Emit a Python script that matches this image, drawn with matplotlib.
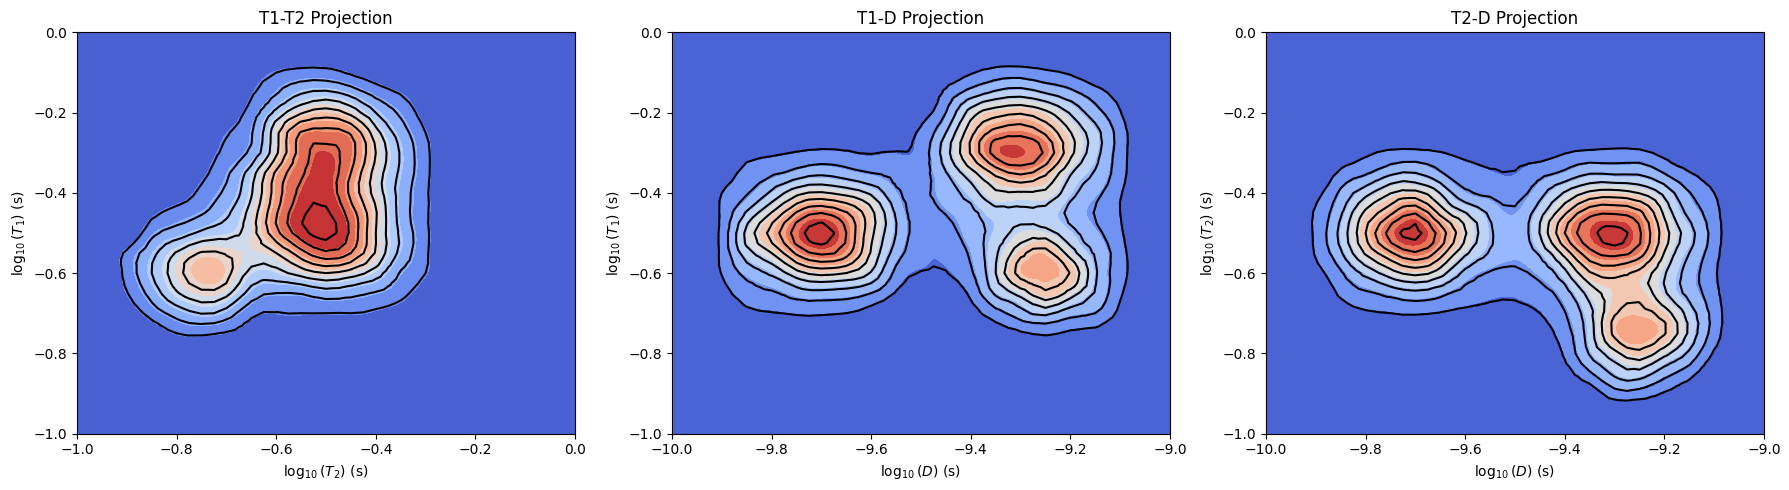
# three 2D projections, contour lines over filled bands
import numpy as np
import matplotlib
matplotlib.use("Agg")
import matplotlib.pyplot as plt
from matplotlib.tri import Triangulation, UniformTriRefiner

# grid nodes, values are heights in units of the contour line spacing
t_axis = [-1.0 + 0.05 * i for i in range(21)]
d_axis = [-10.0 + 0.05 * i for i in range(21)]
y_axis = [-0.05 * i for i in range(21)]

# T1-T2, columns -0.95 .. -0.25, rows -0.05 .. -0.80
t1t2_rows = [
    [0, 0, 0, 0, 0, 0, 0, 0.1, 0.2, 0.2, 0.1, 0, 0, 0, 0],
    [0, 0, 0, 0, 0, 0, 0.4, 1.0, 1.3, 1.3, 0.85, 0.4, 0.1, 0, 0],
    [0, 0, 0, 0, 0, 0.1, 0.85, 1.9, 2.9, 3.2, 2.6, 1.6, 0.9, 0.2, 0],
    [0, 0, 0, 0, 0, 0.3, 1.4, 3.3, 4.9, 5.5, 4.7, 3.0, 1.8, 0.5, 0],
    [0, 0, 0, 0, 0.1, 0.9, 1.9, 4.7, 7.1, 7.4, 6.9, 4.4, 2.5, 1.0, 0],
    [0, 0, 0, 0, 0.4, 1.25, 2.2, 4.8, 7.5, 8.3, 7.4, 5.0, 2.9, 1.25, 0],
    [0, 0, 0, 0, 0.7, 1.8, 3.5, 6.2, 7.85, 8.5, 7.0, 4.6, 2.8, 1.25, 0],
    [0, 0, 0, 0.3, 1.25, 2.2, 3.9, 6.5, 8.3, 8.7, 6.75, 4.6, 2.6, 1.15, 0],
    [0, 0, 0.7, 1.4, 1.9, 2.8, 4.4, 6.9, 8.8, 9.2, 7.5, 5.1, 2.6, 1.15, 0],
    [0, 0, 1.7, 2.45, 3.2, 3.6, 4.6, 6.7, 8.6, 9.4, 7.8, 5.0, 2.8, 1.2, 0],
    [0, 1.2, 2.7, 4.1, 5.1, 4.9, 4.5, 5.0, 6.6, 7.8, 7.0, 4.9, 2.7, 1.15, 0],
    [0, 1.3, 3.0, 4.6, 5.9, 5.35, 3.7, 3.65, 4.4, 5.0, 4.5, 3.5, 1.9, 1.0, 0],
    [0, 0.95, 2.4, 3.9, 4.75, 4.3, 2.55, 2.0, 2.05, 2.5, 2.3, 1.9, 1.3, 0.45, 0],
    [0, 0.3, 1.4, 2.4, 3.05, 2.55, 1.25, 0.95, 1.0, 1.0, 1.0, 0.8, 0.4, 0, 0],
    [0, 0, 0.3, 1.0, 1.15, 0.9, 0.4, 0.1, 0.1, 0.1, 0.1, 0.1, 0, 0, 0],
    [0, 0, 0, 0, 0.1, 0, 0, 0, 0, 0, 0, 0, 0, 0, 0],
]

# T1-D, columns -9.95 .. -9.05, rows -0.05 .. -0.80
t1d_rows = [
    [0, 0, 0, 0, 0, 0, 0, 0, 0, 0, 0, 0, 0.1, 0.1, 0, 0, 0, 0, 0],
    [0, 0, 0, 0, 0, 0, 0, 0, 0, 0, 0.3, 0.9, 1.4, 1.5, 1.2, 0.85, 0.3, 0, 0],
    [0, 0, 0, 0, 0, 0, 0, 0, 0, 0, 1.2, 2.4, 3.2, 3.5, 2.95, 2.3, 1.4, 0.6, 0],
    [0, 0, 0, 0, 0, 0, 0, 0, 0, 0.5, 2.0, 4.5, 5.6, 5.9, 5.25, 3.9, 2.45, 1.05, 0],
    [0, 0, 0, 0.1, 0.3, 0.3, 0.3, 0.3, 0.4, 1.2, 3.0, 5.7, 7.4, 7.75, 6.85, 5.05, 3.4, 1.5, 0.1],
    [0, 0.1, 0.6, 0.85, 1.05, 1.2, 1.1, 0.95, 1.05, 1.4, 3.6, 6.1, 8.45, 8.8, 7.85, 5.3, 3.4, 1.45, 0.2],
    [0, 0.4, 1.35, 1.8, 2.35, 2.75, 2.4, 2.0, 1.65, 1.6, 2.95, 4.65, 6.3, 7.2, 6.2, 4.1, 2.9, 1.4, 0.1],
    [0, 1.0, 1.9, 3.2, 4.65, 5.1, 4.65, 3.8, 2.2, 1.75, 2.5, 3.5, 4.85, 4.9, 4.8, 3.35, 2.3, 1.1, 0],
    [0, 1.15, 3.15, 5.05, 7.1, 8.0, 7.1, 5.3, 2.85, 1.6, 2.05, 2.7, 3.6, 3.8, 3.65, 2.75, 1.95, 1.0, 0],
    [0, 1.25, 4.3, 6.35, 8.5, 9.45, 8.0, 5.25, 3.0, 1.4, 1.55, 2.5, 3.4, 4.4, 4.4, 3.35, 2.3, 1.15, 0],
    [0, 1.2, 3.6, 5.0, 7.2, 8.2, 7.4, 4.9, 2.5, 1.25, 1.25, 2.15, 3.85, 5.7, 6.4, 4.5, 2.85, 1.4, 0.05],
    [0, 1.05, 2.35, 3.2, 4.6, 5.3, 5.0, 3.9, 1.7, 0.95, 0.95, 1.85, 4.0, 6.45, 6.75, 5.95, 3.15, 1.4, 0.15],
    [0, 0.55, 1.55, 1.85, 2.45, 2.65, 2.5, 2.0, 0.9, 0.2, 0.3, 1.2, 3.2, 4.4, 5.8, 4.6, 2.9, 1.15, 0],
    [0, 0, 0.7, 0.95, 1.1, 1.1, 1.0, 0.55, 0.1, 0, 0, 0.6, 1.6, 2.6, 3.25, 2.4, 2.0, 0.7, 0],
    [0, 0, 0, 0.1, 0.15, 0.2, 0.05, 0, 0, 0, 0, 0, 0.5, 0.85, 1.15, 0.8, 0.6, 0, 0],
    [0, 0, 0, 0, 0, 0, 0, 0, 0, 0, 0, 0, 0, 0, 0, 0, 0, 0, 0],
]

# T2-D, columns -9.95 .. -9.05, rows -0.25 .. -0.95
t2d_rows = [
    [0, 0, 0, 0, 0.1, 0.1, 0.1, 0, 0, 0, 0, 0, 0.05, 0.05, 0.05, 0, 0, 0, 0],
    [0, 0, 0.3, 0.8, 1.2, 1.25, 1.05, 0.7, 0.4, 0.5, 0.5, 0.95, 1.2, 1.3, 1.25, 0.7, 0.2, 0, 0],
    [0, 0, 1.2, 1.85, 2.75, 3.0, 2.1, 1.4, 1.15, 1.05, 1.65, 2.2, 2.9, 2.8, 2.8, 1.95, 1.05, 0.4, 0],
    [0, 0.6, 2.2, 3.65, 4.95, 5.3, 3.95, 2.2, 1.8, 1.65, 2.65, 4.1, 5.2, 5.4, 4.95, 3.7, 2.05, 1.0, 0],
    [0, 1.15, 2.85, 5.25, 6.8, 7.95, 5.7, 4.05, 2.8, 2.15, 3.6, 5.85, 7.7, 7.9, 7.3, 4.8, 2.7, 1.35, 0],
    [0, 1.2, 3.3, 6.0, 8.4, 9.3, 7.6, 5.1, 3.15, 2.4, 4.05, 7.0, 8.7, 9.35, 8.15, 5.45, 3.4, 1.55, 0],
    [0, 1.1, 2.85, 5.15, 6.85, 7.9, 6.5, 4.2, 2.9, 2.3, 3.15, 5.4, 7.7, 8.35, 7.5, 4.95, 3.0, 1.35, 0],
    [0, 0.6, 1.85, 3.3, 4.55, 5.3, 4.45, 2.7, 1.9, 1.8, 2.3, 3.7, 5.9, 6.3, 5.7, 4.1, 2.55, 1.15, 0],
    [0, 0.1, 1.2, 1.85, 2.3, 2.7, 2.3, 1.6, 1.25, 1.2, 1.6, 2.55, 4.4, 5.5, 5.65, 4.15, 2.65, 1.3, 0],
    [0, 0, 0.4, 0.85, 1.0, 1.1, 0.95, 0.75, 0.6, 0.6, 1.0, 1.95, 3.7, 5.9, 6.4, 5.5, 3.55, 1.6, 0],
    [0, 0, 0, 0, 0.1, 0, 0, 0, 0, 0, 0.4, 1.55, 3.5, 6.3, 6.95, 6.1, 3.8, 1.5, 0],
    [0, 0, 0, 0, 0, 0, 0, 0, 0, 0, 0, 1.15, 3.1, 4.7, 5.7, 4.35, 2.8, 0.85, 0],
    [0, 0, 0, 0, 0, 0, 0, 0, 0, 0, 0, 0.6, 1.85, 3.25, 3.6, 2.4, 1.4, 0.1, 0],
    [0, 0, 0, 0, 0, 0, 0, 0, 0, 0, 0, 0, 0.4, 1.55, 1.55, 0.9, 0.3, 0, 0],
    [0, 0, 0, 0, 0, 0, 0, 0, 0, 0, 0, 0, 0, 0, 0, 0, 0, 0, 0],
]

titles = ["T1-T2 Projection", "T1-D Projection", "T2-D Projection"]
xlabels = [r"$\log_{10}(T_2)$ (s)", r"$\log_{10}(D)$ (s)", r"$\log_{10}(D)$ (s)"]
ylabels = [r"$\log_{10}(T_1)$ (s)", r"$\log_{10}(T_1)$ (s)", r"$\log_{10}(T_2)$ (s)"]
line_levels = [1, 2, 3, 4, 5, 6, 7, 8, 9]

W, H = 1789, 490


def full_grid(rows, first_col, first_row):
    # everything outside the stored window stays at zero
    z = np.zeros((21, 21))
    rows = np.array(rows)
    z[first_row:first_row + rows.shape[0], first_col:first_col + rows.shape[1]] = rows
    return z


panels = [
    (t_axis, full_grid(t1t2_rows, 1, 1), 10, 0.92, 77),
    (d_axis, full_grid(t1d_rows, 1, 1), 9, 1.09, 672),
    (d_axis, full_grid(t2d_rows, 1, 5), 9, 1.09, 1266),
]

fig = plt.figure(figsize=(W / 100, H / 100), dpi=100)
cmap = plt.get_cmap("coolwarm")

for i, (xs, z, n_bands, step, left) in enumerate(panels):
    ax = fig.add_axes([left / W, 1 - 433.5 / H, 498 / W, 401 / H])
    fill_levels = [-1] + [step * k for k in range(1, n_bands)] + [20]
    band_colors = [cmap((k + 0.5) / n_bands) for k in range(n_bands)]

    # the fill in the reference is smoother than its lines, so refine more for it
    gx, gy = np.meshgrid(xs, y_axis)
    tri = Triangulation(gx.ravel(), gy.ravel())
    refiner = UniformTriRefiner(tri)
    tri_fill, z_fill = refiner.refine_field(z.ravel(), subdiv=3)
    tri_line, z_line = refiner.refine_field(z.ravel(), subdiv=1)

    ax.tricontourf(tri_fill, z_fill, levels=fill_levels, colors=band_colors)
    ax.tricontour(tri_line, z_line, levels=line_levels, colors="black", linewidths=1.5)
    ax.set_xlim(xs[0], xs[-1])
    ax.set_ylim(-1, 0)
    ax.set_title(titles[i])
    ax.set_xlabel(xlabels[i])
    ax.set_ylabel(ylabels[i])

fig.savefig("out.png", dpi=100)
